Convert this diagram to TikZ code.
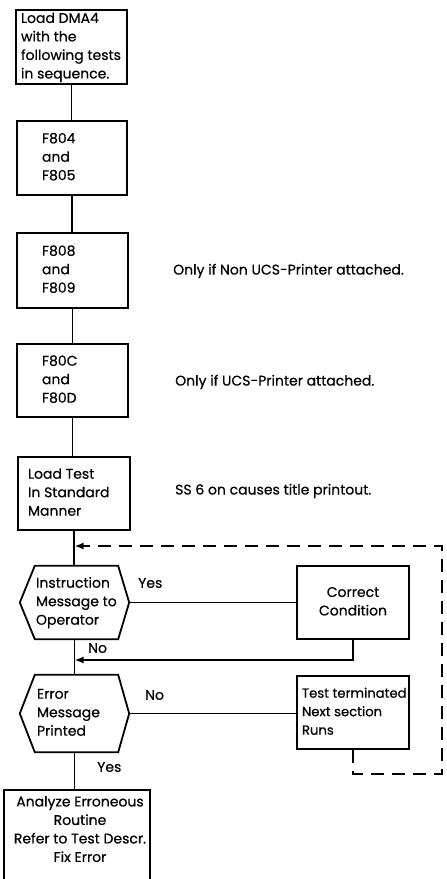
\documentclass[tikz,border=0pt]{standalone}
\usepackage{fontspec}
\setmainfont{Poppins}[FakeBold=0.5]
\usetikzlibrary{arrows.meta}
\newcommand{\leftblk}[2]{\makebox[#1][l]{\begin{tabular}{@{}l@{}}#2\end{tabular}}}
\newcommand{\centblk}[1]{\begin{tabular}{@{}c@{}}#1\end{tabular}}
\begin{document}
\begin{tikzpicture}[x=1pt,y=-1pt,
  every node/.style={font=\fontsize{14}{18.5}\selectfont},
  box/.style={draw, line width=1.7pt, inner sep=0pt},
  hexn/.style={inner sep=0pt},
  lbl/.style={anchor=west, inner sep=0pt},
  conn/.style={line width=1.8pt},
  dsh/.style={line width=1.8pt, dash pattern=on 13pt off 8pt},
  tip/.style={-{Latex[length=9pt,width=7pt]}}]
\useasboundingbox (0,0) rectangle (447,879);
\clip (0,0) rectangle (447,879);
\fill[white] (0,0) rectangle (447,879);

\node[box, minimum width=111pt, minimum height=74pt] (b1) at (71.5,47) {\leftblk{101pt}{Load DMA4\\with the\\following tests\\in sequence.}};
\node[box, minimum width=110pt, minimum height=74pt] (b2) at (72,158) {\leftblk{60pt}{F804\\and\\F805}};
\node[box, minimum width=111pt, minimum height=75pt] (b3) at (72.5,270.5) {\leftblk{61pt}{F808\\and\\F809}};
\node[box, minimum width=111pt, minimum height=73pt] (b4) at (72.5,380.5) {\leftblk{61pt}{F80C\\and\\F80D}};
\node[box, minimum width=112pt, minimum height=73pt] (b5) at (74,493.5) {\leftblk{92pt}{Load Test\\In Standard\\Manner}};

\node[hexn, minimum width=109pt, minimum height=73pt] (h1) at (74.5,602.5) {\leftblk{77pt}{Instruction\\Message to\\Operator}};
\node[hexn, minimum width=109pt, minimum height=77pt] (h2) at (74.5,713.5) {\leftblk{75pt}{Error\\Message\\Printed}};
\draw[conn] ([xshift=15pt]h1.north west) -- ([xshift=-11pt]h1.north east) -- (h1.east) -- ([xshift=-11pt]h1.south east) -- ([xshift=15pt]h1.south west) -- (h1.west) -- cycle;
\draw[conn] ([xshift=15pt]h2.north west) -- ([xshift=-11pt]h2.north east) -- (h2.east) -- ([xshift=-11pt]h2.south east) -- ([xshift=15pt]h2.south west) -- (h2.west) -- cycle;

\node[box, minimum width=112pt, minimum height=73pt] (cc) at (353,602.5) {\makebox[100pt]{\centblk{Correct\\Condition}}};
\node[box, minimum width=112pt, minimum height=73pt, font=\fontsize{13.2}{18.5}\selectfont] (tt) at (353,712.5) {\leftblk{102pt}{Test terminated\\Next section\\Runs}};

\node[box, minimum width=146pt, minimum height=120pt, anchor=north] (fixbox) at (77,789) {};
\node[inner sep=0pt] (fix) at (80,830.5) {\centblk{Analyze Erroneous\\Routine\\Refer to Test Descr.\\Fix Error}};

\node[lbl] (n1) at (173,271) {Only if Non UCS-Printer attached.};
\node[lbl] (n2) at (175,382) {Only if UCS-Printer attached.};
\node[lbl] (n3) at (175,491) {SS 6 on causes title printout.};

\node[lbl] (yes1) at (138,583) {Yes};
\node[lbl] (no1) at (88,648) {No};
\node[lbl] (no2) at (145,695) {No};
\node[lbl] (yes2) at (97,767) {Yes};

\draw[conn] (b1.south) -- (b1.south |- b2.north);
\draw[conn] (b2.south) -- (b2.south |- b3.north);
\draw[conn] (b3.south) -- (b3.south |- b4.north);
\draw[conn] (b4.south) -- (b4.south |- b5.north);
\draw[conn] (b5.south) -- (b5.south |- h1.north);
\draw[conn] (h1.south) -- (h1.south |- h2.north);
\draw[conn] (h2.south) -- (h2.south |- fixbox.north);
\draw[conn] (h1.east) -- (h1.east -| cc.west);
\draw[conn] (h2.east) -- (h2.east -| tt.west);

\coordinate (r1) at (74.5,660);
\draw[conn, tip] (cc.south) |- (r1);

\coordinate (d1) at (442,774);
\coordinate (d2) at (442,546);
\coordinate (d3) at (74.5,546);
\draw[dsh, tip] (tt.south) |- (d1) -- (d2) -- (d3);
\end{tikzpicture}
\end{document}
